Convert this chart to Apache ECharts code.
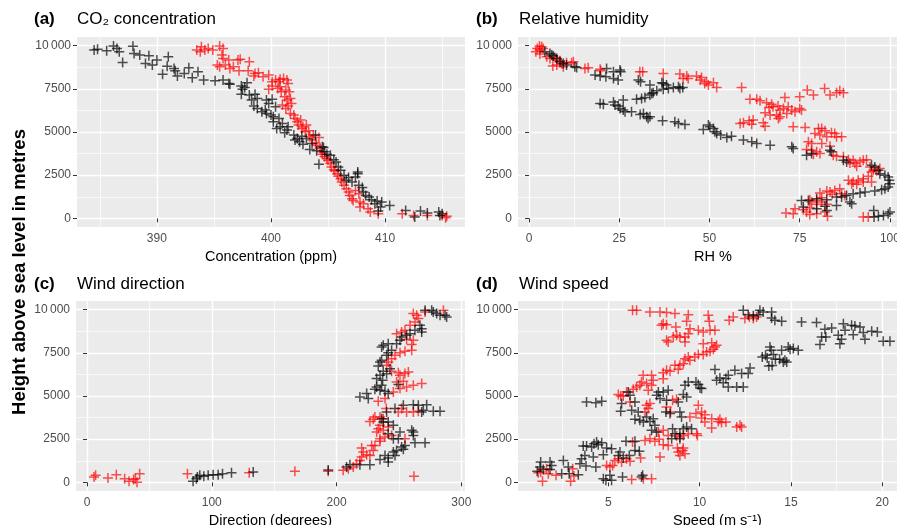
<!DOCTYPE html>
<html>
<head>
<meta charset="utf-8">
<script src="https://cdn.jsdelivr.net/npm/echarts@6/dist/echarts.min.js"></script>
<style>
  html, body { margin: 0; padding: 0; background: #fff; }
  #chart { width: 897px; height: 525px; }
</style>
</head>
<body>
<div id="chart"></div>
<script>
// tick values (major + minor grid lines)
const heightTicks = [0, 2500, 5000, 7500, 10000];
const heightMinor = [1250, 3750, 6250, 8750];
const co2Ticks = [390, 400, 410];
const co2Minor = [385, 395, 405, 415];
const rhTicks = [0, 25, 50, 75, 100];
const rhMinor = [12.5, 37.5, 62.5, 87.5];
const dirTicks = [0, 100, 200, 300];
const dirMinor = [50, 150, 250];
const speedTicks = [5, 10, 15, 20];
const speedMinor = [2.5, 7.5, 12.5, 17.5];

// (a) CO2 concentration, [ppm, height]
const co2Black = [[384.5,9750],[384.8,9790],[385.6,9710],[386.2,9980],[386.5,9840],[386.7,9650],[387.0,9030],[387.9,9960],[388.0,9550],[388.5,9460],[389.0,8970],[389.3,9420],[389.6,8880],[390.0,9170],[390.5,8350],[390.9,8800],[391.0,9360],[391.5,8680],[391.6,8550],[391.8,8240],[392.4,8390],[392.8,8720],[393.1,8140],[393.6,8490],[394.1,8010],[395.1,7970],[395.8,8010],[396.3,7810],[396.4,7770],[397.4,7660],[397.5,7470],[397.7,7580],[397.9,7850],[397.4,7190],[398.1,7140],[398.3,6850],[398.6,7190],[398.8,6940],[398.5,6500],[398.8,6360],[399.2,6170],[399.5,6270],[399.6,6850],[399.6,6070],[399.8,6650],[400.0,5980],[400.1,6900],[400.2,5880],[400.2,5590],[400.4,6460],[400.7,5780],[400.5,5200],[400.8,5300],[401.0,5490],[401.2,4950],[401.4,5110],[401.5,5300],[402.0,4820],[402.1,4530],[402.3,4620],[402.5,4430],[402.7,4760],[402.8,4290],[403.1,4620],[403.4,3980],[403.6,4330],[403.9,4820],[404.0,3910],[404.2,3130],[404.5,4140],[404.6,4100],[404.7,3850],[404.9,3710],[405.2,3660],[405.5,3400],[405.7,3270],[405.9,2980],[406.1,2790],[406.4,2500],[406.6,2200],[406.8,2360],[407.1,2110],[407.4,2400],[407.6,2690],[407.6,2590],[407.7,1910],[408.0,1780],[408.1,1530],[408.3,1330],[408.6,1240],[408.8,1080],[409.1,850],[409.3,1010],[409.6,660],[409.4,430],[409.7,950],[410.4,750],[411.8,460],[412.6,80],[413.1,430],[413.7,310],[414.7,370],[414.8,170],[415.0,270]];
const co2Red = [[393.5,9750],[393.8,9650],[393.9,9940],[394.2,9750],[394.5,9840],[394.9,9750],[395.5,9980],[395.8,9840],[395.7,9460],[395.8,9260],[395.3,8880],[395.5,8780],[396.0,8880],[396.3,9170],[396.4,8680],[396.7,8780],[397.2,8550],[397.1,9170],[397.3,9210],[398.1,9070],[398.0,8550],[398.5,8240],[398.6,8390],[398.9,8430],[399.3,8200],[399.8,8300],[400.1,7910],[400.4,8010],[400.7,7910],[400.8,8050],[401.1,8100],[401.4,8010],[401.5,7810],[399.8,7470],[400.1,7660],[400.6,7520],[400.8,7620],[400.9,7330],[401.3,7430],[401.6,7330],[401.2,7040],[401.4,6850],[401.7,6940],[401.0,6560],[401.3,6360],[401.5,6500],[401.8,6650],[401.7,6070],[402.0,5980],[402.1,5780],[402.3,5590],[402.4,5400],[402.6,5690],[402.7,5200],[402.8,5300],[403.0,5010],[403.1,5400],[403.3,5070],[403.4,4720],[403.6,4530],[403.7,4820],[403.9,4370],[404.0,4240],[404.2,4680],[404.3,4040],[404.4,3850],[404.5,3710],[404.7,3560],[404.9,3460],[405.0,3370],[405.2,3170],[405.3,2980],[405.5,2820],[405.6,2750],[405.8,2590],[405.9,2440],[406.1,2300],[406.2,2110],[406.4,1910],[406.6,1720],[406.8,1530],[406.9,1330],[407.1,1140],[407.4,1620],[407.2,1040],[407.7,1430],[407.8,950],[407.8,660],[408.1,850],[408.5,560],[408.7,370],[409.4,270],[411.5,270],[412.5,170],[413.7,170],[415.0,170],[415.3,40],[415.4,120]];

// (b) relative humidity, [RH %, height]
const rhBlack = [[4.4,9650],[5.8,9550],[6.3,9460],[6.7,9400],[7.7,9260],[8.6,9070],[9.5,8970],[10.4,8880],[12.7,8780],[13.2,8740],[18.3,8300],[19.7,8240],[21.5,8680],[21.3,8200],[23.4,8490],[23.4,8100],[24.7,8010],[25.2,8590],[25.4,8490],[30.3,8010],[30.9,7910],[29.8,6890],[31.2,6940],[32.1,7000],[33.5,7140],[34.0,7230],[33.5,7720],[34.4,7270],[35.4,7390],[36.8,7850],[37.2,7810],[38.1,7720],[37.2,7470],[38.6,7520],[40.0,7580],[41.4,7620],[41.8,7520],[42.6,7580],[19.7,6650],[20.6,6610],[23.4,6730],[23.8,6560],[24.7,6500],[25.2,6360],[26.1,6850],[26.1,6270],[26.6,6170],[28.4,6170],[30.8,6010],[31.7,6070],[32.6,5880],[33.0,5780],[33.5,5880],[37.0,5650],[40.4,5590],[41.4,5490],[43.2,5430],[48.3,5140],[49.7,5400],[50.1,5300],[51.1,5200],[51.5,5010],[52.0,4910],[53.1,4820],[54.8,4680],[56.1,4760],[59.4,4530],[61.7,4430],[63.1,4330],[66.8,4240],[72.8,4140],[73.2,4040],[76.9,3660],[78.3,3750],[83.4,3950],[83.8,3850],[87.1,3370],[88.0,3270],[94.9,3080],[95.8,2980],[96.8,2790],[97.2,2590],[98.6,2500],[99.5,2400],[99.8,2200],[100.0,2010],[99.5,1820],[98.6,1720],[97.7,1660],[95.8,1590],[93.1,1530],[91.7,1470],[89.8,1430],[88.0,1330],[86.6,1240],[85.2,1240],[82.5,1080],[79.7,1140],[77.4,1040],[75.5,1040],[76.0,660],[79.7,560],[82.0,700],[82.5,460],[85.2,750],[88.9,950],[89.4,850],[95.5,460],[95.6,80],[96.8,120],[98.2,170],[99.5,270],[100.0,370]];
const rhRed = [[1.9,9650],[2.3,9840],[2.9,9980],[3.0,9750],[3.5,9940],[3.9,9840],[3.0,9510],[4.9,9360],[5.8,9260],[7.2,9320],[7.7,9170],[8.6,9130],[9.0,8970],[6.6,8820],[7.7,8880],[9.5,8780],[10.4,9010],[11.8,9010],[12.3,9070],[15.5,8680],[16.4,8720],[19.7,8630],[19.9,8550],[30.7,8490],[31.5,8490],[37.2,8390],[41.8,8360],[42.7,8100],[43.7,8240],[44.1,8100],[46.4,8240],[47.4,8010],[47.8,8160],[49.2,7910],[48.7,7810],[49.7,7720],[51.1,7850],[52.0,7580],[58.9,7580],[61.2,6900],[63.1,6890],[64.0,6810],[65.8,6690],[66.5,6420],[67.2,6610],[67.6,6460],[69.0,6500],[69.5,6270],[70.5,6360],[70.9,7000],[71.8,6460],[72.8,6270],[73.7,6170],[75.0,6360],[75.5,6270],[65.4,6110],[66.8,5980],[68.6,5980],[69.1,5780],[69.5,5880],[71.4,6070],[58.5,5490],[59.4,5530],[61.0,5650],[61.7,5450],[62.1,5690],[64.9,5530],[65.4,5340],[73.2,5300],[76.5,5260],[75.0,7040],[77.1,7430],[78.8,7140],[81.9,7520],[83.4,7140],[85.2,7270],[86.1,7390],[87.1,7270],[80.2,5200],[81.1,5200],[82.0,5070],[79.2,4910],[80.6,4820],[82.5,4720],[83.8,4950],[84.7,4910],[85.2,4720],[86.6,4720],[77.4,4430],[78.3,4330],[81.1,4330],[83.4,4180],[76.9,3980],[78.3,3950],[79.7,3850],[80.6,3750],[78.8,3710],[84.3,3660],[85.2,3600],[87.1,3560],[88.5,3400],[88.9,3210],[89.8,3370],[90.3,3170],[90.8,3020],[91.7,3270],[92.6,3370],[93.5,3400],[94.5,2980],[94.9,2690],[95.4,2790],[96.3,2750],[97.2,2880],[94.0,2440],[92.6,2300],[91.2,2200],[89.8,2110],[88.5,2200],[89.4,2010],[90.8,1970],[92.6,2110],[94.9,2110],[86.1,1720],[84.7,1620],[83.4,1530],[82.5,1590],[80.6,1470],[84.0,1390],[86.6,1430],[87.5,1330],[81.1,1200],[79.7,1040],[78.3,950],[77.8,1080],[81.1,950],[82.5,810],[79.7,810],[77.8,620],[76.0,500],[76.9,370],[73.7,560],[73.2,270],[71.2,310],[77.8,230],[79.7,270],[82.0,370],[82.7,120],[92.6,80],[94.0,80]];

// (c) wind direction, [degrees, height]
const dirBlack = [[85.0,60],[87.7,210],[88.5,310],[90.4,410],[93.6,350],[97.1,410],[101.1,440],[105.1,440],[108.6,500],[115.8,560],[133.2,600],[193.3,710],[208.0,890],[210.7,1020],[218.7,1020],[226.7,1020],[234.8,1330],[238.8,1560],[241.4,1410],[241.4,1180],[246.8,1560],[245.5,1760],[248.1,1850],[252.1,2050],[254.8,2140],[253.5,1910],[262.8,2300],[270.9,2300],[261.5,2720],[260.2,3010],[261.5,2920],[250.8,2920],[245.5,2530],[249.5,2530],[241.4,2820],[245.5,3300],[241.4,3500],[237.4,3500],[236.1,3690],[240.1,4070],[246.8,4270],[253.5,4460],[261.5,4500],[265.5,4460],[272.2,4500],[269.5,4170],[277.5,4110],[282.9,4110],[268.2,4070],[224.1,5140],[218.7,4940],[225.4,4850],[230.7,5390],[232.1,5520],[234.8,5330],[236.1,5620],[238.8,5270],[241.4,5140],[249.5,5660],[232.1,6010],[234.8,6200],[236.9,5910],[237.4,6430],[240.1,6290],[242.8,6580],[233.4,6740],[234.8,6970],[236.1,7070],[240.1,7360],[241.4,7510],[244.1,7650],[236.1,7840],[237.4,7940],[241.4,8030],[248.1,8030],[250.8,8230],[252.1,8420],[256.1,8520],[258.8,8610],[262.8,8810],[268.2,8710],[268.2,8900],[266.8,9090],[270.9,9960],[276.2,9960],[277.5,9870],[280.2,9770],[282.9,9670],[286.9,9670],[288.2,9580]];
const dirRed = [[5.6,310],[6.9,410],[16.8,250],[23.5,440],[30.2,210],[33.7,60],[37.4,170],[38.8,210],[40.1,0],[42.2,500],[80.5,500],[130.0,560],[166.6,640],[193.3,640],[205.3,700],[209.4,790],[213.4,890],[216.0,1080],[218.7,1270],[220.1,1470],[221.4,1760],[220.1,1990],[224.1,1600],[226.7,1560],[229.4,1850],[228.1,2140],[230.7,2140],[234.8,2380],[234.8,2530],[238.8,2630],[244.1,2720],[254.8,2530],[232.1,2920],[233.4,3110],[237.4,3010],[241.4,3210],[226.7,3530],[229.4,3650],[230.7,3780],[234.8,3780],[237.4,3690],[234.8,3300],[249.5,4070],[252.1,4270],[256.1,4070],[261.5,4070],[265.5,4110],[239.8,4270],[233.4,4690],[238.8,4850],[245.5,5230],[250.8,5430],[256.1,5520],[261.5,5620],[268.2,5720],[248.1,5810],[253.5,5850],[250.8,6200],[254.8,6300],[257.5,6390],[249.5,6350],[244.1,6430],[240.1,6780],[241.4,6970],[244.1,7160],[246.8,7360],[250.8,7510],[254.8,7590],[260.2,7650],[260.2,7980],[261.5,8230],[256.1,8280],[248.1,8610],[252.1,8710],[254.8,8810],[258.8,9090],[262.8,9290],[265.5,9480],[261.5,9770],[264.2,9670],[270.9,9870],[285.6,9960],[262.0,350]];

// (d) wind speed, [m/s, height]
const speedBlack = [[1.30,1180],[1.26,890],[1.44,750],[1.11,640],[1.81,1180],[1.90,980],[1.81,750],[2.54,1270],[2.45,500],[2.81,890],[2.86,500],[3.45,1080],[3.54,1370],[3.36,440],[3.63,2100],[3.81,2100],[3.72,1560],[3.78,950],[4.18,1470],[4.09,2050],[4.22,2240],[4.36,2340],[4.45,2180],[4.64,2300],[4.73,1600],[4.32,890],[4.91,1990],[5.18,1950],[4.73,210],[4.87,120],[5.09,410],[5.18,120],[5.55,1560],[5.64,1760],[5.82,1410],[5.78,310],[6.15,1560],[5.97,2380],[6.46,2380],[6.46,1850],[6.70,1800],[6.82,310],[6.88,410],[3.81,4650],[4.32,4610],[4.64,4690],[5.68,4110],[5.73,4560],[6.09,5230],[6.19,5040],[6.28,4170],[6.46,4650],[6.46,3650],[6.64,4070],[6.73,3590],[6.92,3500],[7.10,3780],[7.28,3530],[7.37,3010],[7.46,3690],[7.55,3300],[7.64,2920],[7.65,5040],[7.74,5230],[7.83,4850],[8.01,5230],[8.16,4070],[8.19,4750],[8.28,5330],[8.38,3980],[8.47,2530],[8.52,3110],[8.65,2820],[8.92,2530],[8.83,4650],[8.92,4070],[8.92,2820],[9.01,3780],[9.11,5080],[9.20,5620],[9.29,4940],[9.38,5810],[9.11,3110],[9.29,3210],[9.56,3110],[9.80,5810],[9.93,5660],[10.02,5460],[10.11,5430],[10.84,6530],[10.93,5910],[11.11,6040],[11.29,5770],[11.44,6010],[11.57,5520],[11.57,6200],[11.93,6490],[12.03,5520],[12.30,6300],[12.39,5520],[12.66,6300],[12.76,6620],[13.43,7260],[13.61,7360],[13.70,7200],[13.79,6740],[13.85,7840],[13.92,7650],[13.97,6760],[14.04,7400],[14.15,7130],[14.38,7130],[14.49,7650],[14.58,6970],[14.67,7070],[14.77,6970],[14.85,7840],[14.95,7700],[15.13,7750],[15.40,7650],[12.39,9960],[12.66,9710],[12.94,9640],[13.21,9710],[13.30,9960],[13.48,9870],[13.94,9870],[13.94,9520],[14.12,9380],[14.49,9330],[15.58,9290],[16.40,9250],[16.59,7980],[16.68,8420],[16.86,8860],[16.91,8420],[17.23,8940],[17.59,8520],[17.68,8030],[17.77,8280],[17.87,9190],[17.96,8810],[18.32,9090],[18.41,8550],[18.50,9050],[18.78,9000],[18.96,8670],[19.05,8280],[19.42,8750],[19.73,8710],[20.05,8170],[20.42,8170]];
const speedRed = [[1.17,560],[1.30,600],[1.40,60],[1.62,790],[1.72,500],[2.14,410],[2.94,60],[3.05,790],[3.12,370],[4.91,980],[5.09,890],[5.24,980],[5.36,1270],[5.55,1370],[5.73,1180],[6.00,1370],[6.19,1220],[6.33,2340],[6.77,1410],[6.28,170],[6.92,210],[7.37,210],[7.01,2430],[7.28,2530],[7.55,2380],[7.79,2490],[7.83,1470],[8.01,2180],[8.28,2140],[8.78,1990],[8.83,1760],[8.92,1560],[9.07,1850],[9.20,1660],[9.11,1990],[7.74,2920],[8.01,3010],[8.28,2720],[8.74,2680],[8.92,2630],[9.11,2720],[9.38,2820],[9.84,2820],[9.88,2720],[9.47,3780],[9.80,3980],[9.93,4460],[10.11,4070],[10.29,3920],[10.11,3730],[10.29,3500],[10.66,3150],[10.66,3690],[11.02,3530],[11.11,3650],[11.20,3460],[11.44,3500],[12.03,3210],[12.21,3300],[12.30,3210],[8.41,4070],[8.52,4750],[8.74,4810],[8.19,4360],[7.28,4560],[7.19,4270],[7.01,4070],[7.10,4460],[6.19,4650],[5.82,5000],[5.55,5080],[5.68,5000],[6.00,5230],[6.37,5390],[6.55,5520],[6.73,5620],[6.82,5810],[7.10,5720],[7.37,5620],[6.91,6200],[7.37,6200],[7.46,5910],[7.19,5330],[8.01,6000],[8.01,6350],[8.19,6490],[8.38,6430],[8.83,6550],[8.65,6780],[8.92,6780],[9.11,6870],[9.20,7160],[9.38,7260],[9.47,7070],[9.74,7260],[9.93,7400],[10.20,7400],[10.38,7550],[10.57,7590],[10.75,7700],[10.84,7840],[10.93,7940],[10.66,8090],[10.20,8030],[9.93,8810],[10.20,8710],[10.57,8810],[10.84,8810],[10.53,9330],[10.47,9670],[9.29,9330],[9.47,8900],[9.38,8610],[9.20,8420],[9.20,8130],[8.92,8420],[8.74,8520],[8.56,8420],[8.19,8230],[8.28,8130],[8.19,9130],[8.01,9190],[7.92,9090],[7.83,9870],[8.19,9830],[8.65,9770],[9.38,9710],[8.70,9000],[7.28,9870],[6.33,9960],[6.55,9960],[11.62,9380],[11.84,9580],[12.48,9480],[12.72,9580],[12.94,9480],[13.12,9580]];

const FONT = "Liberation Sans, Arial, sans-serif";
const PLUS = "path://M4.25,0h1.5v4.25h4.25v1.5h-4.25v4.25h-1.5v-4.25h-4.25v-1.5h4.25z";

const chart = echarts.init(document.getElementById("chart"), null, { renderer: "canvas" });

// panels b and d run past the right edge of the picture, as in the original
const panels = [
  { grid: { left: 77, top: 37, width: 388, height: 190 }, x: [383.0, 417.0], ticks: co2Ticks, minor: co2Minor,
    name: "Concentration (ppm)", black: co2Black, red: co2Red },
  { grid: { left: 518, top: 37, width: 390, height: 190 }, x: [-3.05, 105.0], ticks: rhTicks, minor: rhMinor,
    name: "RH %", black: rhBlack, red: rhRed },
  { grid: { left: 76, top: 301, width: 389, height: 190 }, x: [-8.8, 302.9], ticks: dirTicks, minor: dirMinor,
    name: "Direction (degrees)", black: dirBlack, red: dirRed },
  { grid: { left: 518, top: 301, width: 399, height: 190 }, x: [0.058, 21.9], ticks: speedTicks, minor: speedMinor,
    name: "Speed (m s\u207B\u00B9)", black: speedBlack, red: speedRed },
];

function heightLabel(v) {
  return v >= 10000 ? String(v).replace(/\B(?=(\d{3})+(?!\d))/g, "\u2009") : String(v);
}

const grids = [], xAxes = [], yAxes = [], series = [];
panels.forEach((p, i) => {
  grids.push(Object.assign({
    show: true, backgroundColor: "#EBEBEB", borderWidth: 0,
    containLabel: false, outerBoundsMode: "none",
  }, p.grid));
  // major x
  xAxes.push({
    type: "value", gridIndex: i, min: p.x[0], max: p.x[1], position: "bottom",
    axisLine: { show: false },
    axisTick: { show: true, length: 4, customValues: p.ticks, lineStyle: { color: "#333333", width: 1 } },
    axisLabel: { customValues: p.ticks, margin: 6, color: "#4D4D4D", fontSize: 12, fontFamily: FONT },
    splitLine: { show: true, lineStyle: { color: "#FFFFFF", width: 1.4 } },
    name: p.name, nameLocation: "middle", nameGap: 22,
    nameTextStyle: { color: "#000", fontSize: 14.5, fontFamily: FONT },
  });
  // minor x grid lines
  xAxes.push({
    type: "value", gridIndex: i, min: p.x[0], max: p.x[1], position: "top",
    axisLine: { show: false },
    axisTick: { show: false, customValues: p.minor },
    axisLabel: { show: false, customValues: p.minor },
    splitLine: { show: true, lineStyle: { color: "#FFFFFF", width: 0.7 } },
  });
  yAxes.push({
    type: "value", gridIndex: i, min: -500, max: 10500, position: "left",
    axisLine: { show: false },
    axisTick: { show: true, length: 4, customValues: heightTicks, lineStyle: { color: "#333333", width: 1 } },
    axisLabel: { customValues: heightTicks, margin: 6, color: "#4D4D4D", fontSize: 12, fontFamily: FONT, formatter: heightLabel },
    splitLine: { show: true, lineStyle: { color: "#FFFFFF", width: 1.4 } },
  });
  yAxes.push({
    type: "value", gridIndex: i, min: -500, max: 10500, position: "right",
    axisLine: { show: false },
    axisTick: { show: false, customValues: heightMinor },
    axisLabel: { show: false, customValues: heightMinor },
    splitLine: { show: true, lineStyle: { color: "#FFFFFF", width: 0.7 } },
  });
  series.push({
    type: "scatter", xAxisIndex: 2 * i, yAxisIndex: 2 * i, data: p.red,
    symbol: PLUS, symbolSize: 10, itemStyle: { color: "rgba(255,0,0,0.85)" }, silent: true,
  });
  series.push({
    type: "scatter", xAxisIndex: 2 * i, yAxisIndex: 2 * i, data: p.black,
    symbol: PLUS, symbolSize: 10, itemStyle: { color: "rgba(0,0,0,0.85)" }, silent: true,
  });
});

const tagStyle = { color: "#000", fontSize: 17, fontWeight: "bold", fontFamily: FONT };
const headStyle = { color: "#000", fontSize: 17, fontWeight: "normal", fontFamily: FONT };

const option = {
  animation: false,
  backgroundColor: "#FFFFFF",
  title: [
    { text: "(a)", left: 34, top: 11, padding: 0, textStyle: tagStyle },
    { text: "CO\u2082 concentration", left: 77, top: 11, padding: 0, textStyle: headStyle },
    { text: "(b)", left: 476, top: 11, padding: 0, textStyle: tagStyle },
    { text: "Relative humidity", left: 519, top: 11, padding: 0, textStyle: headStyle },
    { text: "(c)", left: 34, top: 276, padding: 0, textStyle: tagStyle },
    { text: "Wind direction", left: 77, top: 276, padding: 0, textStyle: headStyle },
    { text: "(d)", left: 476, top: 276, padding: 0, textStyle: tagStyle },
    { text: "Wind speed", left: 519, top: 276, padding: 0, textStyle: headStyle },
  ],
  grid: grids,
  xAxis: xAxes,
  yAxis: yAxes,
  series: series,
  graphic: [{
    type: "text", x: 20, y: 272, rotation: Math.PI / 2,
    style: { text: "Height above sea level in metres", font: "bold 18.5px " + FONT, fill: "#000",
      textAlign: "center", textVerticalAlign: "middle" },
  }],
};

chart.setOption(option);
</script>
</body>
</html>
